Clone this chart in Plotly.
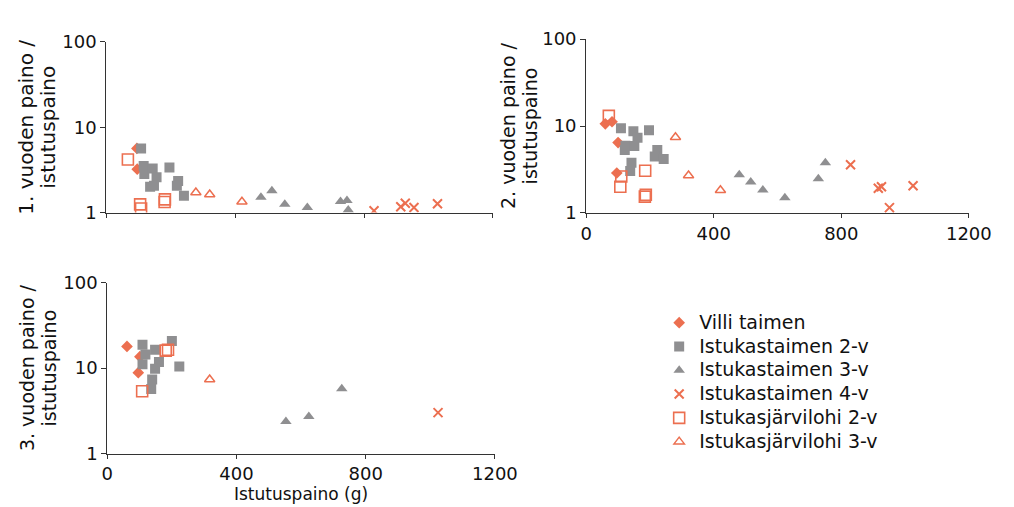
import plotly.graph_objects as go

ORANGE = "#EC6F50"
GRAY = "#8F8F91"

series_names = ["Villi taimen", "Istukastaimen 2-v", "Istukastaimen 3-v",
                "Istukastaimen 4-v", "Istukasjärvilohi 2-v", "Istukasjärvilohi 3-v"]

# Panel 1: 1. vuoden paino / istutuspaino
p1_villi_x = [95, 96]
p1_villi_y = [5.66, 3.23]
p1_t2_x = [108, 116, 118, 144, 156, 136, 148, 196, 223, 219, 241]
p1_t2_y = [5.66, 3.52, 2.84, 3.29, 2.6, 2.01, 2.06, 3.37, 2.35, 2.06, 1.58]
p1_t3_x = [480, 514, 554, 624, 727, 747, 751]
p1_t3_y = [1.51, 1.8, 1.25, 1.15, 1.35, 1.39, 1.07]
p1_t4_x = [831, 914, 928, 955, 1028]
p1_t4_y = [1.05, 1.17, 1.29, 1.15, 1.27]
p1_j2_x = [67, 105, 108, 182, 181]
p1_j2_y = [4.19, 1.25, 1.12, 1.43, 1.33]
p1_j3_x = [278, 321, 421]
p1_j3_y = [1.72, 1.63, 1.34]

# Panel 2: 2. vuoden paino / istutuspaino
p2_villi_x = [60, 81, 100, 96]
p2_villi_y = [10.6, 11.2, 6.44, 2.88]
p2_t2_x = [109, 148, 161, 197, 123, 121, 151, 142, 138, 223, 215, 243]
p2_t2_y = [9.42, 8.73, 7.31, 8.96, 5.92, 5.3, 5.87, 3.78, 3.03, 5.3, 4.47, 4.18]
p2_t3_x = [480, 516, 554, 623, 728, 750]
p2_t3_y = [2.74, 2.27, 1.84, 1.49, 2.47, 3.78]
p2_t4_x = [829, 916, 926, 951, 1025]
p2_t4_y = [3.59, 1.92, 2.0, 1.15, 2.05]
p2_j2_x = [71, 110, 107, 185, 187, 184]
p2_j2_y = [13.1, 2.62, 2.0, 3.06, 1.62, 1.54]
p2_j3_x = [280, 321, 421]
p2_j3_y = [7.43, 2.69, 1.82]

# Panel 3: 3. vuoden paino / istutuspaino
p3_villi_x = [61, 101, 96]
p3_villi_y = [17.9, 13.6, 8.83]
p3_t2_x = [109, 118, 148, 200, 109, 160, 148, 223, 139, 136]
p3_t2_y = [18.7, 14.4, 16.4, 20.7, 11.1, 11.8, 9.79, 10.4, 7.36, 5.69]
p3_t3_x = [553, 624, 726]
p3_t3_y = [2.37, 2.71, 5.74]
p3_t4_x = [1024]
p3_t4_y = [3.01]
p3_j2_x = [108, 181, 188]
p3_j2_y = [5.36, 16.0, 16.4]
p3_j3_x = [317]
p3_j3_y = [7.36]

x_ticks = [0, 400, 800, 1200]
y_ticks = [1, 10, 100]

styles = [
    dict(symbol="diamond", size=9, color=ORANGE, line=dict(width=0)),
    dict(symbol="square", size=10, color=GRAY, line=dict(width=0)),
    dict(symbol="triangle-up", size=10, color=GRAY, line=dict(width=0)),
    dict(symbol="x-thin", size=9, color=ORANGE, line=dict(width=2, color=ORANGE)),
    dict(symbol="square-open", size=11, color=ORANGE, line=dict(width=1.6, color=ORANGE)),
    dict(symbol="triangle-up-open", size=9, color=ORANGE, line=dict(width=1.5, color=ORANGE)),
]

panels = [
    ("x", "y", [(p1_villi_x, p1_villi_y), (p1_t2_x, p1_t2_y), (p1_t3_x, p1_t3_y),
                (p1_t4_x, p1_t4_y), (p1_j2_x, p1_j2_y), (p1_j3_x, p1_j3_y)]),
    ("x2", "y2", [(p2_villi_x, p2_villi_y), (p2_t2_x, p2_t2_y), (p2_t3_x, p2_t3_y),
                  (p2_t4_x, p2_t4_y), (p2_j2_x, p2_j2_y), (p2_j3_x, p2_j3_y)]),
    ("x3", "y3", [(p3_villi_x, p3_villi_y), (p3_t2_x, p3_t2_y), (p3_t3_x, p3_t3_y),
                  (p3_t4_x, p3_t4_y), (p3_j2_x, p3_j2_y), (p3_j3_x, p3_j3_y)]),
]


def big(text, px):
    return f'<span style="font-size:{px}px">{text}</span>'


fig = go.Figure()
for pi, (xa, ya, data) in enumerate(panels):
    for si, (xs, ys) in enumerate(data):
        fig.add_trace(go.Scatter(
            x=xs, y=ys, mode="markers", name=big(series_names[si], 19),
            marker=styles[si], xaxis=xa, yaxis=ya,
            showlegend=(pi == 0), legendgroup=series_names[si],
        ))

FONT = "DejaVu Sans"
tickfont = dict(family=FONT, size=18, color="#111")
common_x = dict(range=[0, 1200], tickvals=x_ticks, ticks="outside", ticklen=4,
                tickcolor="#333", showline=True, linecolor="#333", linewidth=1,
                showgrid=False, zeroline=False, tickfont=tickfont)
common_y = dict(type="log", range=[0, 2], tickvals=y_ticks, ticktext=[str(v) for v in y_ticks],
                ticks="outside", ticklen=5, tickcolor="#333", showline=True,
                linecolor="#333", linewidth=1, showgrid=False, zeroline=False,
                tickfont=tickfont)

# small base size keeps the two title lines close; the span sets the glyph size
titlefont = dict(family=FONT, size=17, color="#111")


def ytitle(n, px):
    return big(f"{n}. vuoden paino /", px) + "<br>" + big("istutuspaino", px)


fig.update_layout(
    width=1014, height=507,
    margin=dict(l=0, r=0, t=0, b=0),
    paper_bgcolor="white", plot_bgcolor="white",
    font=dict(family=FONT, size=18, color="#111"),
    xaxis=dict(common_x, domain=[0.0937, 0.4862], anchor="y", showticklabels=False),
    yaxis=dict(common_y, domain=[0.6016, 0.9527], anchor="x",
               title=dict(text=ytitle(1, 20), font=titlefont, standoff=2)),
    xaxis2=dict(common_x, domain=[0.5809, 0.9694], anchor="y2"),
    yaxis2=dict(common_y, domain=[0.601, 0.9586], anchor="x2",
                title=dict(text=ytitle(2, 19), font=titlefont, standoff=0)),
    xaxis3=dict(common_x, domain=[0.0947, 0.4882], anchor="y3",
                title=dict(text="Istutuspaino (g)", font=dict(family=FONT, size=17, color="#111"), standoff=4)),
    yaxis3=dict(common_y, domain=[0.1059, 0.4576], anchor="x3",
                title=dict(text=ytitle(3, 19), font=titlefont, standoff=2)),
    legend=dict(x=0.655, y=0.41, xanchor="left", yanchor="top",
                font=dict(family=FONT, size=16, color="#111"),
                bgcolor="rgba(0,0,0,0)", itemwidth=30, tracegroupgap=0),
)

fig.write_html("out.html")
